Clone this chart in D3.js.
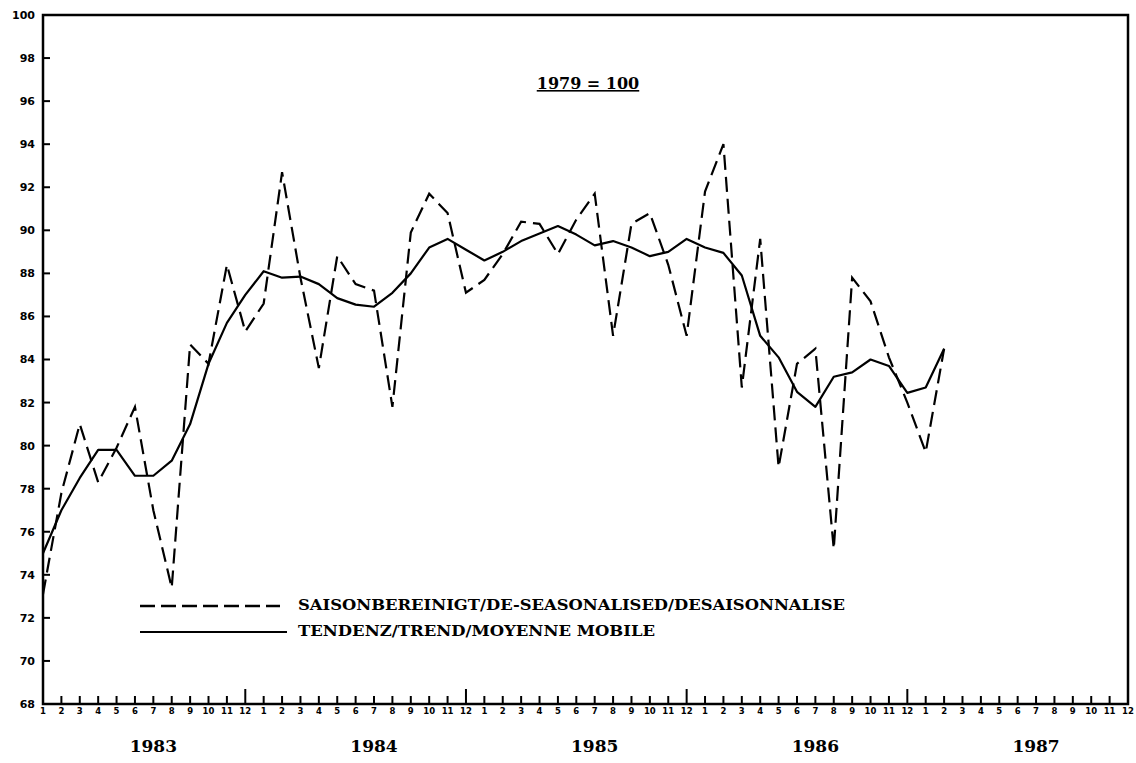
<!DOCTYPE html>
<html>
<head>
<meta charset="utf-8">
<script src="https://cdn.jsdelivr.net/npm/d3@7"></script>
<style>
  body { margin: 0; background: #fff; }
  svg { display: block; }
</style>
</head>
<body>
<div id="chart"></div>
<script>
// monthly index, 1979 = 100, Jan 1983 .. Feb 1987
var years = [1983, 1984, 1985, 1986, 1987];
var monthLabels = ["1","2","3","4","5","6","7","8","9","10","11","12"];
var yTicks = [68,70,72,74,76,78,80,82,84,86,88,90,92,94,96,98,100];

// seasonally adjusted (dashed)
var seasonal = [73.1, 77.8, 81.0, 78.3, 79.9, 81.8, 77.0, 73.4, 84.7, 83.8, 88.4, 85.3,
                86.6, 92.7, 87.8, 83.6, 88.8, 87.5, 87.2, 81.8, 89.9, 91.7, 90.8, 87.1,
                87.7, 88.9, 90.4, 90.3, 88.9, 90.5, 91.7, 85.1, 90.3, 90.8, 88.4, 85.1,
                91.8, 94.0, 82.7, 89.6, 79.0, 83.8, 84.5, 75.2, 87.8, 86.7, 84.1, 82.0,
                79.7, 84.5];

// trend / moving average (solid)
var trend = [75.0, 77.0, 78.5, 79.8, 79.8, 78.6, 78.6, 79.3, 81.0, 83.8, 85.7, 87.0,
             88.1, 87.8, 87.85, 87.5, 86.85, 86.55, 86.45, 87.1, 88.0, 89.2, 89.6, 89.1,
             88.6, 89.0, 89.5, 89.85, 90.2, 89.8, 89.3, 89.5, 89.2, 88.8, 89.0, 89.6,
             89.2, 88.95, 87.9, 85.1, 84.1, 82.5, 81.8, 83.2, 83.4, 84.0, 83.7, 82.45,
             82.7, 84.5];

var legendLabels = ["SAISONBEREINIGT/DE-SEASONALISED/DESAISONNALISE",
                    "TENDENZ/TREND/MOYENNE MOBILE"];
var baseLabel = "1979 = 100";

var width = 1136, height = 763;
var plotL = 43, plotR = 1128, plotT = 15, plotB = 704;
var serif = "'DejaVu Serif', 'Liberation Serif', serif";

var svg = d3.select("#chart").append("svg")
    .attr("width", width)
    .attr("height", height);

var x = d3.scaleLinear().domain([0, years.length * 12 - 1]).range([plotL, plotR]);
var y = d3.scaleLinear().domain([68, 100]).range([plotB, plotT]);

// frame
svg.append("rect")
    .attr("x", plotL).attr("y", plotT)
    .attr("width", plotR - plotL).attr("height", plotB - plotT)
    .attr("fill", "none").attr("stroke", "#000").attr("stroke-width", 2.5);

// y ticks (inside the frame) and labels
svg.selectAll(".ytick").data(yTicks).enter().append("line")
    .attr("x1", plotL).attr("x2", plotL + 7)
    .attr("y1", d => y(d)).attr("y2", d => y(d))
    .attr("stroke", "#000").attr("stroke-width", 2);

svg.selectAll(".ylab").data(yTicks).enter().append("text")
    .attr("x", 35).attr("y", d => y(d))
    .attr("dy", "0.36em")
    .attr("text-anchor", "end")
    .attr("font-family", "'DejaVu Sans', sans-serif")
    .attr("font-weight", "bold")
    .attr("font-size", 11)
    .text(d => d);

// month ticks along the bottom
var months = d3.range(years.length * 12);
svg.selectAll(".xtick").data(months.filter(i => i > 0 && i < months.length - 1)).enter().append("line")
    .attr("x1", i => x(i)).attr("x2", i => x(i))
    .attr("y1", plotB)
    .attr("y2", i => i % 12 == 11 ? plotB - 15 : plotB - 8)
    .attr("stroke", "#000").attr("stroke-width", 2);

svg.selectAll(".xlab").data(months).enter().append("text")
    .attr("x", i => x(i)).attr("y", 714)
    .attr("text-anchor", "middle")
    .attr("font-family", "'DejaVu Sans', sans-serif")
    .attr("font-weight", "bold")
    .attr("font-size", 8.5)
    .text(i => monthLabels[i % 12]);

svg.selectAll(".year").data(years).enter().append("text")
    .attr("x", (d, i) => x(i * 12 + 6))
    .attr("y", 752)
    .attr("text-anchor", "middle")
    .attr("font-family", serif)
    .attr("font-weight", "bold")
    .attr("font-size", 17)
    .text(d => d);

// base year note
svg.append("text")
    .attr("x", 588).attr("y", 89)
    .attr("text-anchor", "middle")
    .attr("font-family", serif)
    .attr("font-weight", "bold")
    .attr("font-size", 16)
    .attr("text-decoration", "underline")
    .text(baseLabel);

// the lines
var line = d3.line()
    .x((d, i) => x(i))
    .y(d => y(d));

svg.append("path")
    .datum(seasonal)
    .attr("d", line)
    .attr("fill", "none")
    .attr("stroke", "#000")
    .attr("stroke-width", 2.2)
    .attr("stroke-dasharray", "15,7");

svg.append("path")
    .datum(trend)
    .attr("d", line)
    .attr("fill", "none")
    .attr("stroke", "#000")
    .attr("stroke-width", 2.2)
    .attr("stroke-linejoin", "round");

// legend
var legend = svg.append("g");
legend.append("line")
    .attr("x1", 140).attr("x2", 280).attr("y1", 606).attr("y2", 606)
    .attr("stroke", "#000").attr("stroke-width", 2.5)
    .attr("stroke-dasharray", "15,6");
legend.append("line")
    .attr("x1", 140).attr("x2", 287).attr("y1", 632).attr("y2", 632)
    .attr("stroke", "#000").attr("stroke-width", 2);

legend.selectAll("text").data(legendLabels).enter().append("text")
    .attr("x", 298)
    .attr("y", (d, i) => 610 + i * 26)
    .attr("font-family", serif)
    .attr("font-weight", "bold")
    .attr("font-size", 14)
    .attr("textLength", (d, i) => i == 0 ? 547 : 357)
    .attr("lengthAdjust", "spacingAndGlyphs")
    .text(d => d);
</script>
</body>
</html>
